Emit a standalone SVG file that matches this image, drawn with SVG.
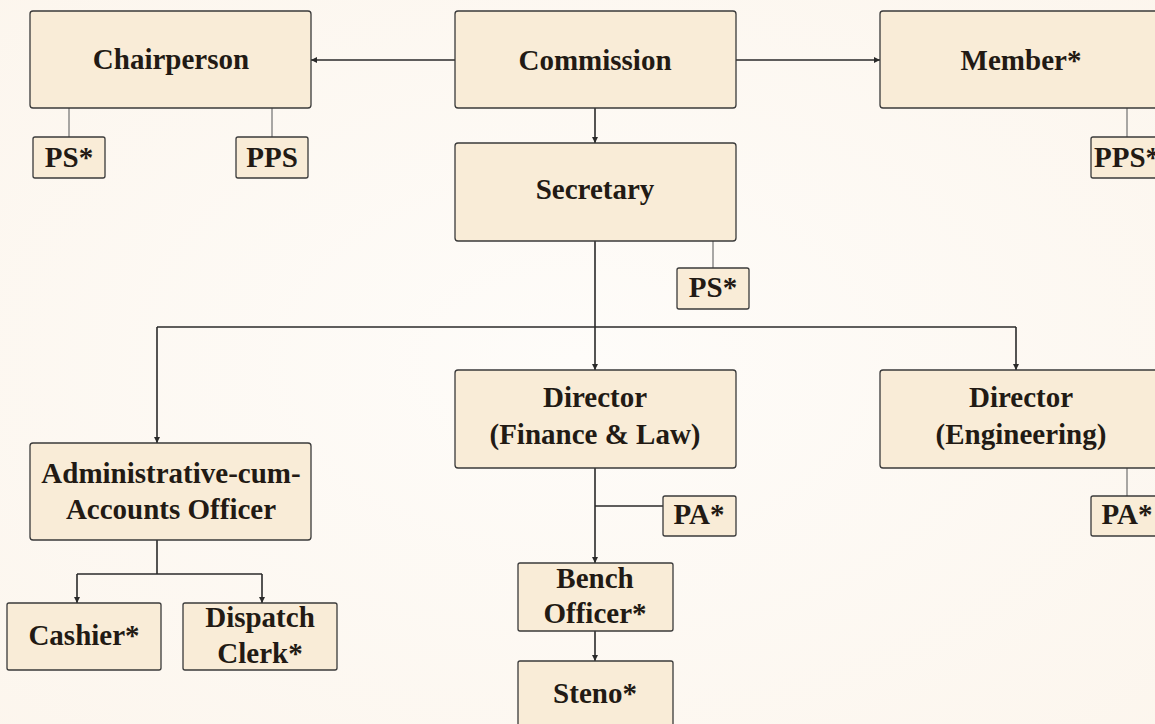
<svg xmlns="http://www.w3.org/2000/svg" width="1155" height="724" viewBox="0 0 1155 724">
<defs>
<radialGradient id="bg" cx="0.5" cy="0.5" r="0.8">
<stop offset="0" stop-color="#fefcf9"/>
<stop offset="1" stop-color="#fcf5ec"/>
</radialGradient>
<marker id="arr" viewBox="0 0 10 10" refX="10" refY="5" markerWidth="6" markerHeight="6" markerUnits="userSpaceOnUse" orient="auto">
<path d="M0,0 L10,5 L0,10 z" fill="#2a2a2a"/>
</marker>
<style>
.box{fill:#f9ecd7;stroke:#3a3a3a;stroke-width:1.3}
.t{font-family:"Liberation Serif","Times New Roman",serif;font-weight:bold;font-size:29px;fill:#221a14;text-anchor:middle}
.ln{fill:none;stroke:#2a2a2a;stroke-width:1.6}
.lt{fill:none;stroke:#707070;stroke-width:1.2}
</style>
</defs>
<rect x="0" y="0" width="1155" height="724" fill="url(#bg)"/>
<g id="connectors">
<line class="ln" x1="455" y1="60" x2="311" y2="60" marker-end="url(#arr)"/>
<line class="ln" x1="736" y1="60" x2="880" y2="60" marker-end="url(#arr)"/>
<line class="ln" x1="595" y1="108" x2="595" y2="143" marker-end="url(#arr)"/>
<line class="lt" x1="69" y1="108" x2="69" y2="137"/>
<line class="lt" x1="272" y1="108" x2="272" y2="137"/>
<line class="lt" x1="1127" y1="108" x2="1127" y2="137"/>
<line class="lt" x1="713" y1="241" x2="713" y2="268"/>
<line class="ln" x1="595" y1="241" x2="595" y2="327"/>
<line class="ln" x1="157" y1="327" x2="1016" y2="327"/>
<line class="ln" x1="157" y1="327" x2="157" y2="443" marker-end="url(#arr)"/>
<line class="ln" x1="595" y1="327" x2="595" y2="370" marker-end="url(#arr)"/>
<line class="ln" x1="1016" y1="327" x2="1016" y2="370" marker-end="url(#arr)"/>
<line class="lt" x1="1127" y1="468" x2="1127" y2="496"/>
<line class="ln" x1="157" y1="540" x2="157" y2="574"/>
<line class="ln" x1="77" y1="574" x2="262" y2="574"/>
<line class="ln" x1="77" y1="574" x2="77" y2="603" marker-end="url(#arr)"/>
<line class="ln" x1="262" y1="574" x2="262" y2="603" marker-end="url(#arr)"/>
<line class="ln" x1="595" y1="468" x2="595" y2="563" marker-end="url(#arr)"/>
<line class="ln" x1="595" y1="506" x2="663" y2="506"/>
<line class="ln" x1="595" y1="631" x2="595" y2="661" marker-end="url(#arr)"/>
</g>
<g id="chairperson"><rect class="box" x="30" y="11" width="281" height="97" rx="3"/><text class="t" x="171" y="69">Chairperson</text></g>
<g id="commission"><rect class="box" x="455" y="11" width="281" height="97" rx="3"/><text class="t" x="595" y="70">Commission</text></g>
<g id="member"><rect class="box" x="880" y="11" width="283" height="97" rx="3"/><text class="t" x="1021" y="70">Member*</text></g>
<g id="ps-chair"><rect class="box" x="33" y="137" width="72" height="41" rx="2"/><text class="t" x="69" y="167">PS*</text></g>
<g id="pps-chair"><rect class="box" x="236" y="137" width="72" height="41" rx="2"/><text class="t" x="272" y="167">PPS</text></g>
<g id="pps-member"><rect class="box" x="1091" y="137" width="72" height="41" rx="2"/><text class="t" x="1127" y="167">PPS*</text></g>
<g id="secretary"><rect class="box" x="455" y="143" width="281" height="98" rx="3"/><text class="t" x="595" y="199">Secretary</text></g>
<g id="ps-secretary"><rect class="box" x="677" y="268" width="72" height="41" rx="2"/><text class="t" x="713" y="297">PS*</text></g>
<g id="director-fl"><rect class="box" x="455" y="370" width="281" height="98" rx="3"/><text class="t" x="595" y="407">Director</text><text class="t" x="595" y="444">(Finance &amp; Law)</text></g>
<g id="director-eng"><rect class="box" x="880" y="370" width="283" height="98" rx="3"/><text class="t" x="1021" y="407">Director</text><text class="t" x="1021" y="444">(Engineering)</text></g>
<g id="pa-eng"><rect class="box" x="1091" y="496" width="72" height="40" rx="2"/><text class="t" x="1127" y="524">PA*</text></g>
<g id="pa-fl"><rect class="box" x="663" y="496" width="73" height="40" rx="2"/><text class="t" x="699" y="524">PA*</text></g>
<g id="admin"><rect class="box" x="30" y="443" width="281" height="97" rx="3"/><text class="t" x="171" y="483">Administrative-cum-</text><text class="t" x="171" y="519">Accounts Officer</text></g>
<g id="cashier"><rect class="box" x="7" y="603" width="154" height="67" rx="2"/><text class="t" x="84" y="645">Cashier*</text></g>
<g id="dispatch"><rect class="box" x="183" y="603" width="154" height="67" rx="2"/><text class="t" x="260" y="627">Dispatch</text><text class="t" x="260" y="663">Clerk*</text></g>
<g id="bench"><rect class="box" x="518" y="563" width="155" height="68" rx="2"/><text class="t" x="595" y="588">Bench</text><text class="t" x="595" y="623">Officer*</text></g>
<g id="steno"><rect class="box" x="518" y="661" width="155" height="70" rx="2"/><text class="t" x="595" y="703">Steno*</text></g>
</svg>
